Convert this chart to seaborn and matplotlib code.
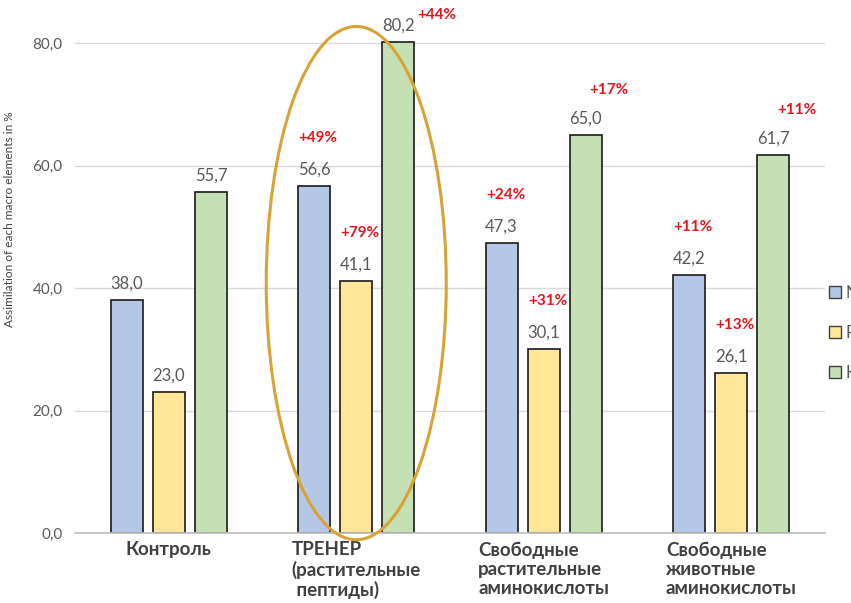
import matplotlib
matplotlib.use("Agg")
import matplotlib.pyplot as plt
import seaborn as sns
import pandas as pd
from matplotlib.patches import Ellipse

categories = ["Контроль", "ТРЕНЕР\n(растительные\n пептиды)",
              "Свободные\nрастительные\nаминокислоты", "Свободные\nживотные\nаминокислоты"]
elements = ["N", "P", "K"]
n_values = [38.0, 56.6, 47.3, 42.2]
p_values = [23.0, 41.1, 30.1, 26.1]
k_values = [55.7, 80.2, 65.0, 61.7]
pct_labels = [[None, None, None],
              ["+49%", "+79%", "+44%"],
              ["+24%", "+31%", "+17%"],
              ["+11%", "+13%", "+11%"]]
y_ticks = [0, 20, 40, 60, 80]

rows = []
for i, c in enumerate(categories):
    for e, vals in zip(elements, [n_values, p_values, k_values]):
        rows.append({"cat": c, "el": e, "val": vals[i]})
df = pd.DataFrame(rows)

sns.set_theme(style="white")
plt.rcParams["font.family"] = ["Lato", "DejaVu Sans"]

fig = plt.figure(figsize=(8.51, 6.03), dpi=100)
ax = fig.add_axes([75/851, 1-533/603, 750/851, 514.5/603])

palette = {"N": "#B4C7E7", "P": "#FFE699", "K": "#C5E0B4"}
sns.barplot(data=df, x="cat", y="val", hue="el", palette=palette, order=categories,
            hue_order=elements, width=0.675, gap=0.244, edgecolor="#1a1a1a",
            linewidth=1.2, ax=ax, errorbar=None, legend=True, saturation=1)

ax.set_ylim(0, 84)
ax.set_xlim(-0.5, 3.5)
ax.set_yticks(y_ticks)
ax.set_yticklabels([f"{v:.1f}".replace(".", ",") for v in y_ticks], color="#595959", fontsize=11)
ax.yaxis.grid(True, color="#D9D9D9", linewidth=1)
ax.set_axisbelow(True)
for s in ["top", "right", "left"]:
    ax.spines[s].set_visible(False)
ax.spines["bottom"].set_color("#BFBFBF")
ax.tick_params(axis="y", length=0, pad=9)
ax.tick_params(axis="x", length=0, pad=6)
ax.set_xlabel("")
ax.set_ylabel("Assimilation of each macro elements in %", color="#404040", fontsize=8.6)
ax.yaxis.set_label_coords(-0.08, 0.61)
ax.set_xticks(range(len(categories)))
ax.set_xticklabels(categories, fontsize=13.5, fontweight="bold", color="#404040",
                   multialignment="left", va="top", linespacing=1.15)

for cont in ax.containers:
    ax.bar_label(cont, labels=[f"{b.get_height():.1f}".replace(".", ",") for b in cont],
                 padding=6, color="#595959", fontsize=12)

# red percentage annotations
for j, cont in enumerate(ax.containers):
    for i, b in enumerate(cont):
        lab = pct_labels[i][j]
        if lab is None:
            continue
        xc = b.get_x() + b.get_width() / 2
        top = b.get_height()
        if j == 2:
            dx, dy = (38, 20) if i == 1 else (23, 38)
        else:
            dx, dy = (4, 41)
        ax.annotate(lab, (xc, top), xytext=(dx * 0.72, dy * 0.72), textcoords="offset points",
                    ha="center", va="bottom", color="#E8141C", fontsize=11, fontweight="bold",
                    annotation_clip=False)

ell = Ellipse((1.0, 40.8), 0.96, 83.8, fill=False, edgecolor="#D9A235", linewidth=2.2,
              clip_on=False, zorder=5)
ax.add_patch(ell)

leg = ax.legend(loc="center left", bbox_to_anchor=(814/851, 1-333/603), bbox_transform=fig.transFigure,
                frameon=False, fontsize=12, handlelength=0.7, handleheight=0.7,
                handletextpad=0.3, labelspacing=1.45, labelcolor="#595959")
for h in leg.legend_handles:
    h.set_edgecolor("#404040")
    h.set_linewidth(1)

fig.savefig("out.png", dpi=100)
